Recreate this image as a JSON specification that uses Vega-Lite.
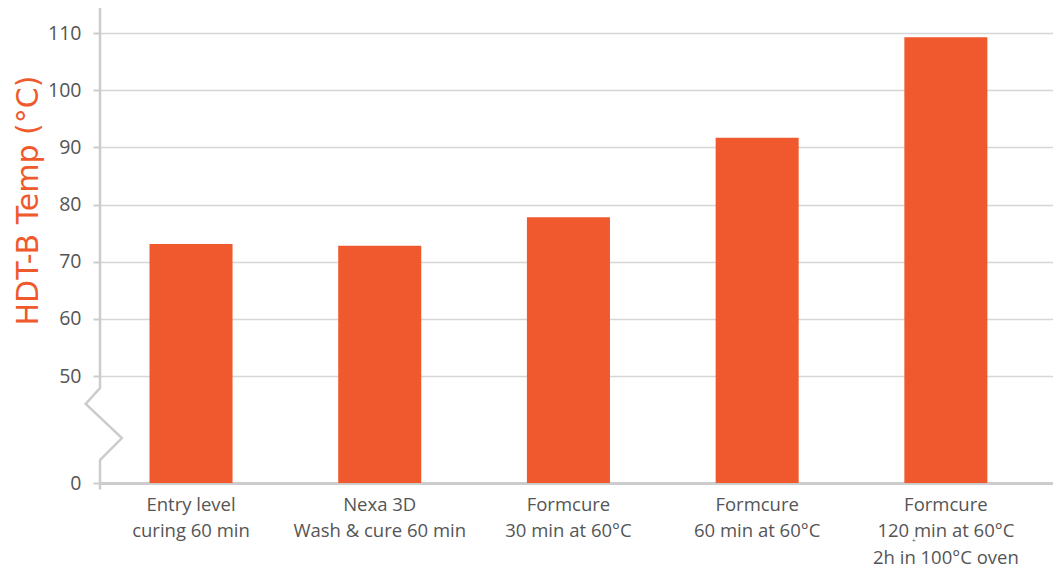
{
  "$schema": "https://vega.github.io/schema/vega-lite/v6.json",
  "width": 953,
  "height": 475,
  "autosize": {"type": "none"},
  "padding": {"left": 100, "top": 8, "right": 0, "bottom": 89},
  "background": "white",
  "config": {"view": {"stroke": null}, "font": "Open Sans"},
  "datasets": {
    "bars": [
      {"category": "Entry level|curing 60 min", "value": 73.1, "note": ""},
      {"category": "Nexa 3D|Wash & cure 60 min", "value": 72.8, "note": ""},
      {"category": "Formcure|30 min at 60°C", "value": 77.8, "note": ""},
      {"category": "Formcure|60 min at 60°C", "value": 91.7, "note": ""},
      {"category": "Formcure|120 min at 60°C|2h in 100°C oven", "value": 109.3, "note": "+"}
    ],
    "axisbreak": [
      {"bx": 0, "value": 114.4, "order": 1},
      {"bx": 0, "value": 44.4, "order": 2},
      {"bx": -1.5, "value": 36.9, "order": 3},
      {"bx": 2.3, "value": 21, "order": 4},
      {"bx": 0, "value": 10.7, "order": 5},
      {"bx": 0, "value": -3, "order": 6}
    ]
  },
  "resolve": {"scale": {"x": "independent"}, "axis": {"x": "independent"}},
  "layer": [
    {
      "data": {"name": "bars"},
      "encoding": {
        "x": {
          "field": "category",
          "type": "nominal",
          "sort": null,
          "scale": {"paddingInner": 0.56, "paddingOuter": 0.305, "align": 0.43},
          "axis": {
            "title": null,
            "labelAngle": 0,
            "labelExpr": "split(datum.label, '|')",
            "labelFontSize": 18.5,
            "labelColor": "#555555",
            "labelLineHeight": 26.5,
            "labelPadding": 12,
            "labelBaseline": "top",
            "ticks": false,
            "domainColor": "#cccccc",
            "domainWidth": 3,
            "grid": false
          }
        },
        "y": {
          "field": "value",
          "type": "quantitative",
          "scale": {"domain": [0, 50, 114.4], "range": [475, 368, 0], "nice": false, "zero": false},
          "axis": {
            "title": "HDT-B Temp (°C)",
            "titleFont": "DejaVu Sans",
            "titleFontSize": 30,
            "titleFontWeight": "normal",
            "titleColor": "#EF5A2C",
            "titleAngle": -90,
            "titleAlign": "center",
            "titleBaseline": "middle",
            "titleX": -72,
            "titleY": 192,
            "values": [0, 50, 60, 70, 80, 90, 100, 110],
            "labelFontSize": 19.5,
            "labelColor": "#555555",
            "labelPadding": 12,
            "tickSize": 7,
            "tickColor": "#cccccc",
            "tickWidth": 2,
            "domain": false,
            "grid": true,
            "gridColor": "#d6d6d6",
            "gridWidth": 1.5
          }
        }
      },
      "layer": [
        {"mark": {"type": "bar", "color": "#F0592D"}},
        {
          "mark": {"type": "text", "fontSize": 7, "color": "#555555", "dy": 58, "dx": -32, "baseline": "middle"},
          "encoding": {"y": {"datum": 0}, "text": {"field": "note"}}
        }
      ]
    },
    {
      "data": {"name": "axisbreak"},
      "mark": {"type": "line", "color": "#cccccc", "strokeWidth": 2.5, "clip": false},
      "encoding": {
        "x": {"field": "bx", "type": "quantitative", "scale": {"domain": [0, 100]}, "axis": null},
        "y": {"field": "value", "type": "quantitative"},
        "order": {"field": "order"}
      }
    }
  ]
}
